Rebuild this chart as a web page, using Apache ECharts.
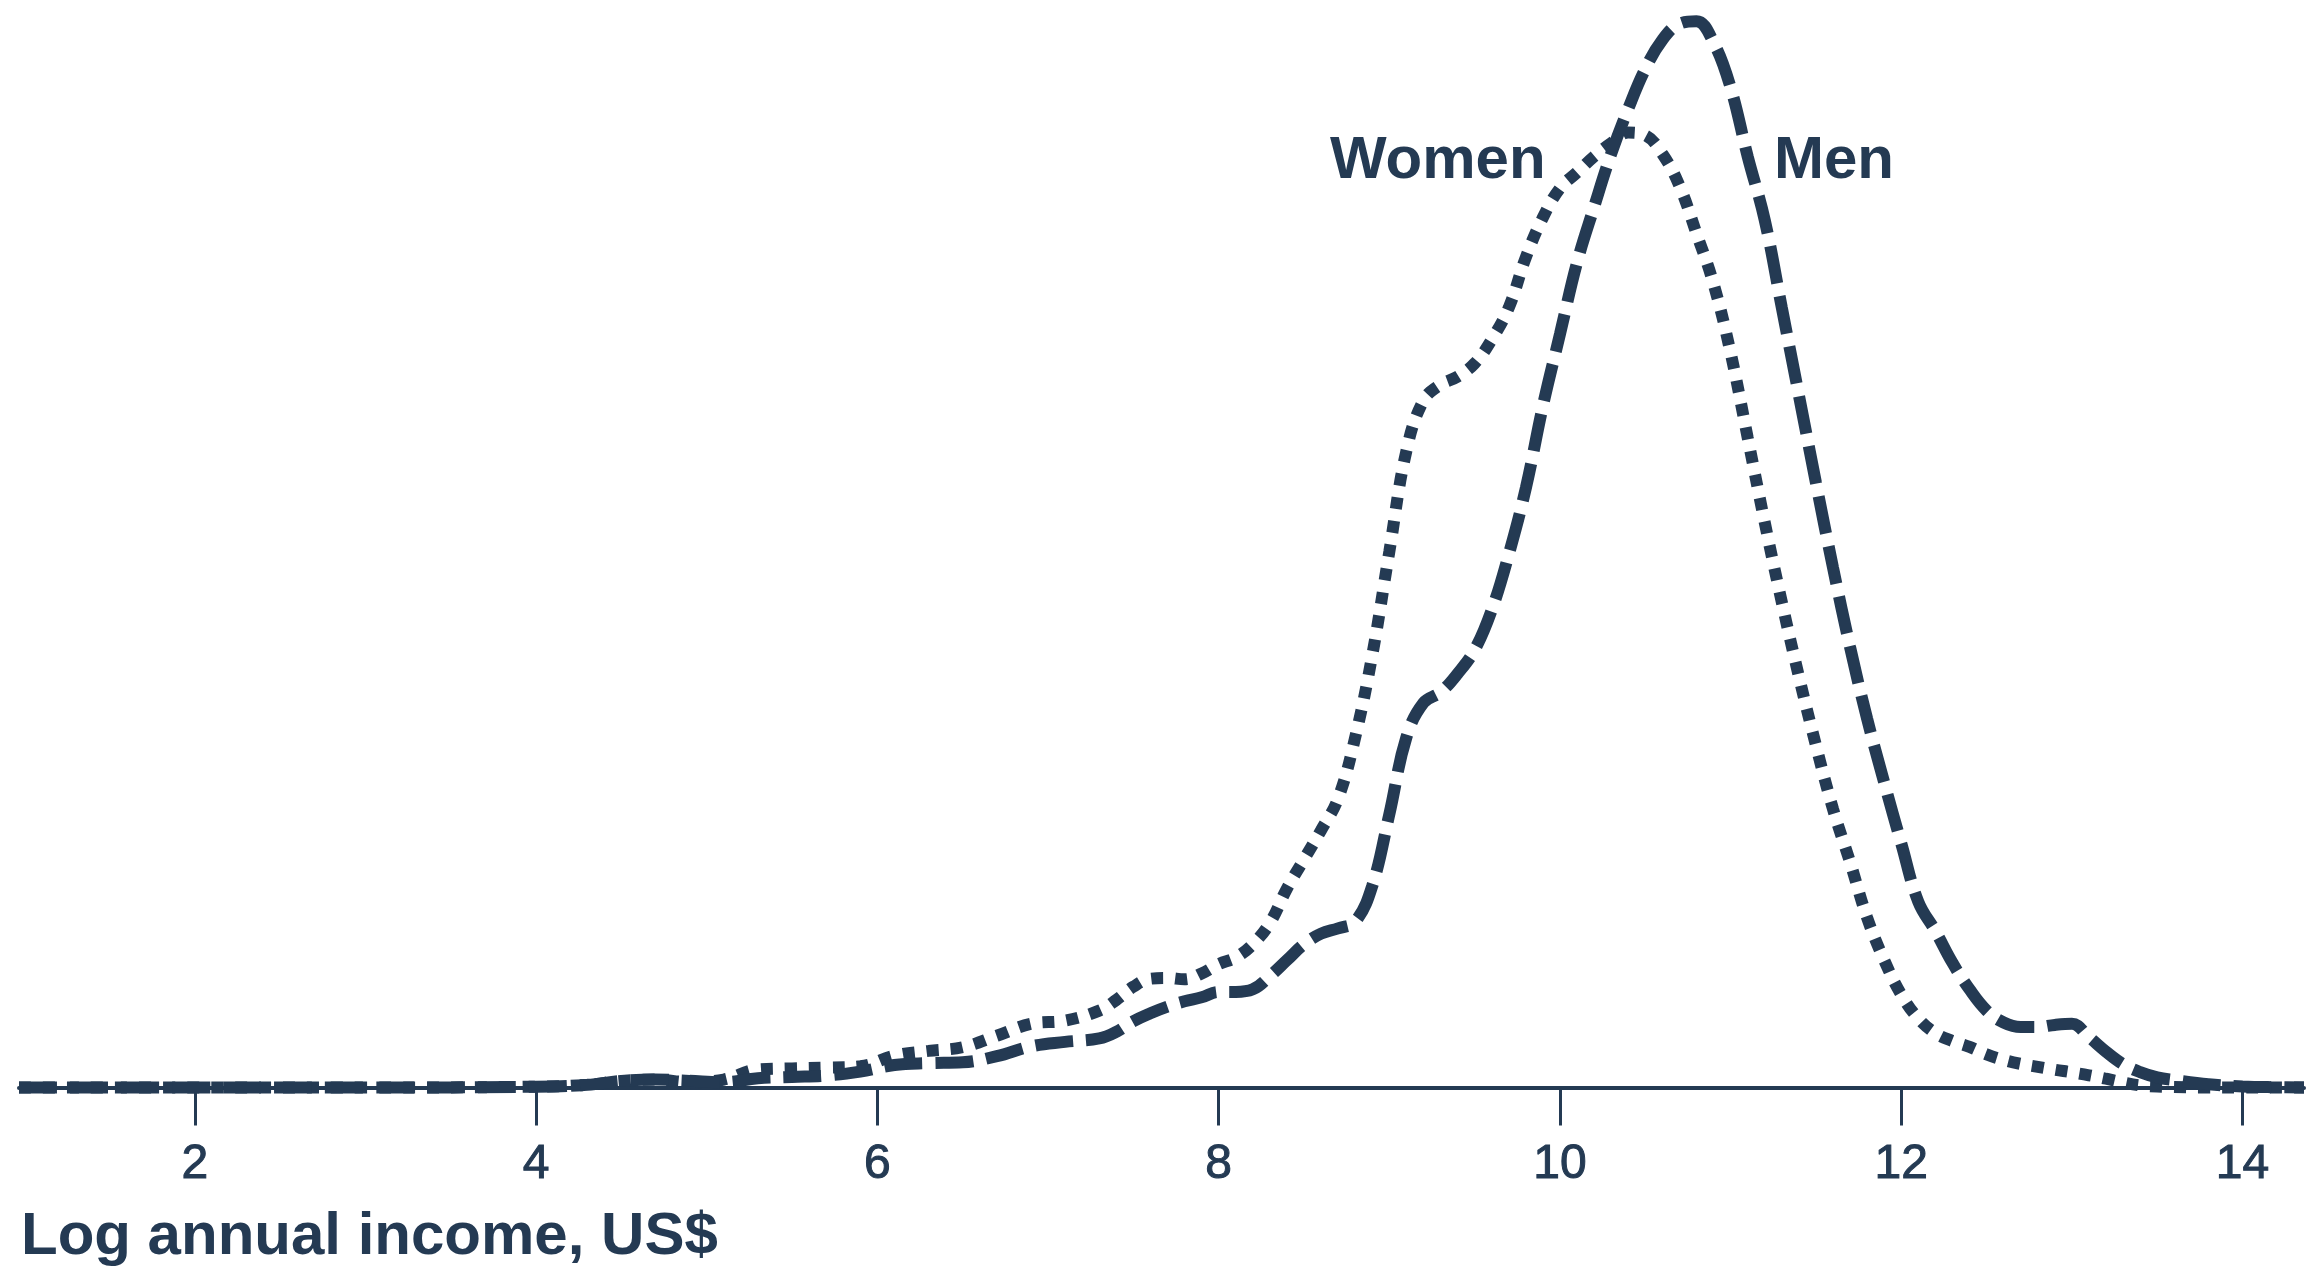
<!DOCTYPE html>
<html>
<head>
<meta charset="utf-8">
<title>Log annual income density</title>
<script src="https://cdn.jsdelivr.net/npm/echarts@6/dist/echarts.min.js"></script>
<style>
  html, body { margin: 0; padding: 0; background: #ffffff; }
  #chart { width: 2309px; height: 1273px; }
</style>
</head>
<body>
<div id="chart"></div>
<script>
// x values (log annual income, US$)
var logIncome = [0.97, 2, 3, 4, 4.3, 4.5, 4.7, 4.9, 5.1, 5.3, 5.5, 5.7, 5.9, 6.1, 6.3, 6.5, 6.7, 6.9, 7.1, 7.3,
  7.4, 7.5, 7.6, 7.7, 7.8, 7.9, 8.0, 8.1, 8.2, 8.3, 8.4, 8.5, 8.6, 8.7, 8.8, 8.9,
  9.0, 9.1, 9.2, 9.3, 9.4, 9.5, 9.6, 9.7, 9.8, 9.9, 10.0, 10.1, 10.2, 10.3, 10.4, 10.5, 10.6, 10.7, 10.8, 10.9,
  11.0, 11.1, 11.2, 11.3, 11.4, 11.5, 11.6, 11.7, 11.8, 11.9, 12.0, 12.1, 12.2, 12.3, 12.4, 12.5, 12.6, 12.7, 12.8, 12.9,
  13.0, 13.1, 13.2, 13.3, 13.4, 13.5, 13.6, 13.8, 14.0, 14.2, 14.36];

// density, men (dashed)
var menDensity = [0, 0, 0, 0.0003, 0.001, 0.0025, 0.003, 0.0025, 0.002, 0.0035, 0.004, 0.0045, 0.006, 0.0085, 0.0092, 0.0095, 0.0118, 0.0155, 0.0172, 0.0185,
  0.021, 0.025, 0.028, 0.0305, 0.0325, 0.034, 0.036, 0.036, 0.037, 0.042, 0.048, 0.054, 0.058, 0.060, 0.0625, 0.076,
  0.103, 0.132, 0.145, 0.149, 0.156, 0.165, 0.180, 0.201, 0.226, 0.257, 0.284, 0.311, 0.332, 0.352, 0.369, 0.384, 0.395, 0.401, 0.402, 0.394,
  0.377, 0.351, 0.327, 0.294, 0.261, 0.228, 0.196, 0.166, 0.139, 0.115, 0.092, 0.070, 0.059, 0.047, 0.037, 0.029, 0.0245, 0.0228, 0.0228, 0.0236,
  0.0240, 0.019, 0.0135, 0.0088, 0.0058, 0.0038, 0.0028, 0.0012, 0.0004, 0.0001, 0];

// density, women (dotted)
var womenDensity = [0, 0, 0, 0.0003, 0.001, 0.0025, 0.003, 0.002, 0.003, 0.0068, 0.0072, 0.0075, 0.008, 0.012, 0.0138, 0.0152, 0.0195, 0.024, 0.0252, 0.029,
  0.033, 0.038, 0.041, 0.0413, 0.0408, 0.043, 0.0465, 0.049, 0.054, 0.062, 0.075, 0.086, 0.097, 0.109, 0.132, 0.163,
  0.202, 0.240, 0.259, 0.265, 0.268, 0.273, 0.282, 0.294, 0.313, 0.328, 0.339, 0.345, 0.351, 0.356, 0.360, 0.359, 0.352, 0.340, 0.322, 0.303,
  0.277, 0.245, 0.213, 0.183, 0.155, 0.129, 0.105, 0.085, 0.064, 0.048, 0.035, 0.026, 0.0205, 0.0175, 0.0153, 0.0125, 0.0104, 0.0089, 0.0078, 0.0067,
  0.0057, 0.0046, 0.0033, 0.0019, 0.0008, 0.0004, 0.0002, 0, 0, 0, 0];

var xTicks = [2, 4, 6, 8, 10, 12, 14];
var seriesNames = ['Women', 'Men'];
var axisTitle = 'Log annual income, US$';

var ink = '#243a53';
var fontFamily = '"Liberation Sans", Arial, Helvetica, sans-serif';

function pairs(xs, ys) {
  var out = [];
  for (var i = 0; i < xs.length; i++) {
    out.push([xs[i], ys[i]]);
  }
  return out;
}

var chart = echarts.init(document.getElementById('chart'), null, { renderer: 'canvas' });

var option = {
  backgroundColor: '#ffffff',
  animation: false,
  grid: {
    left: 19,
    right: 5,
    top: 0,
    bottom: 185.5,
    containLabel: false
  },
  xAxis: {
    type: 'value',
    min: 0.97,
    max: 14.36,
    splitLine: { show: false },
    axisLine: {
      show: true,
      onZero: false,
      lineStyle: { color: ink, width: 4 }
    },
    axisTick: {
      show: true,
      customValues: xTicks,
      length: 38,
      lineStyle: { color: ink, width: 3 }
    },
    axisLabel: {
      customValues: xTicks,
      margin: 53,
      color: ink,
      fontSize: 48,
      fontFamily: fontFamily,
      // a thin outline makes the digits a little heavier, like the original
      textBorderColor: ink,
      textBorderWidth: 1
    }
  },
  yAxis: {
    type: 'value',
    min: 0,
    max: 0.41,
    show: false
  },
  series: [{
    name: seriesNames[0],
    type: 'line',
    data: pairs(logIncome, womenDensity),
    smooth: 0.4,
    symbol: 'none',
    clip: false,
    lineStyle: {
      color: ink,
      width: 12,
      type: [12, 12],
      cap: 'butt'
    }
  }, {
    name: seriesNames[1],
    type: 'line',
    data: pairs(logIncome, menDensity),
    smooth: 0.4,
    symbol: 'none',
    clip: false,
    lineStyle: {
      color: ink,
      width: 12,
      type: [38, 13],
      cap: 'butt'
    }
  }],
  graphic: [{
    type: 'text',
    x: 1330,
    y: 161,
    style: {
      text: seriesNames[0],
      fill: ink,
      font: 'bold 60px ' + fontFamily,
      align: 'left',
      verticalAlign: 'middle'
    }
  }, {
    type: 'text',
    x: 1774,
    y: 161,
    style: {
      text: seriesNames[1],
      fill: ink,
      font: 'bold 60px ' + fontFamily,
      align: 'left',
      verticalAlign: 'middle'
    }
  }, {
    type: 'text',
    x: 21,
    y: 1237,
    style: {
      text: axisTitle,
      fill: ink,
      font: 'bold 60px ' + fontFamily,
      align: 'left',
      verticalAlign: 'middle'
    }
  }]
};

chart.setOption(option);
</script>
</body>
</html>
